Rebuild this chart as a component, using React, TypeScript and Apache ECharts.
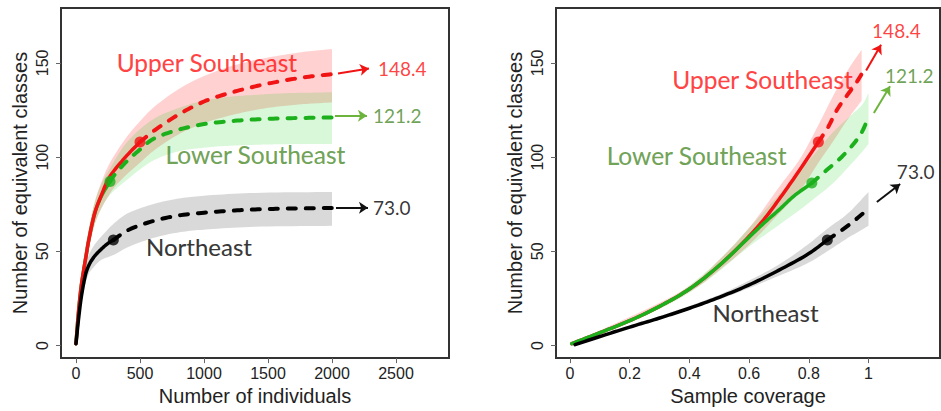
import React, { useEffect, useRef } from 'react';
import * as echarts from 'echarts';

// ---------- axes ----------
const xTicksLeft = [0, 500, 1000, 1500, 2000, 2500];
const xTicksRight = [0, 0.2, 0.4, 0.6, 0.8, 1];
const yTicks = [0, 50, 100, 150];

// ---------- left panel: number of individuals ----------
// Upper Southeast (red)
const usObsX = [0, 20, 40, 60, 80, 100, 150, 200, 250, 300, 400, 500];
const usObsY = [1, 18, 31, 40, 48, 56, 71, 80, 88, 93, 101, 108];
const usExtX = [500, 600, 800, 1000, 1200, 1400, 1600, 1800, 2000];
const usExtY = [108, 113.5, 122.5, 129.5, 134, 137.5, 140.3, 142.5, 144];
const usBandX = [0, 50, 100, 150, 200, 250, 300, 400, 500, 600, 800, 1000, 1200, 1400, 1600, 1800, 2000];
const usBandLo = [1, 32, 51, 65, 73, 79, 84, 91, 97, 103, 112, 118, 122, 125, 127, 128.2, 129];
const usBandHi = [1, 41, 62, 77, 87, 95, 101, 111, 119, 126, 136, 143, 148, 151.5, 154, 156, 157.4];

// Lower Southeast (green)
const lsObsX = [0, 20, 40, 60, 80, 100, 150, 200, 266];
const lsObsY = [1, 18, 31, 40, 48, 56, 71, 79.5, 87];
const lsExtX = [266, 300, 400, 500, 600, 800, 1000, 1200, 1400, 1600, 1800, 2000];
const lsExtY = [87, 90.5, 98, 104, 109.5, 114.5, 117.5, 119, 120, 120.5, 120.8, 121];
const lsBandX = [0, 50, 100, 150, 200, 266, 400, 600, 800, 1000, 1200, 1400, 1600, 2000];
const lsBandLo = [1, 32, 51, 65, 73, 80, 88, 98, 103, 105, 106, 106.5, 106.8, 107];
const lsBandHi = [1, 40, 61, 77, 86, 94, 108, 120, 126, 130, 132, 133, 133.8, 134.4];

// Northeast (black)
const neObsX = [0, 20, 40, 60, 80, 100, 120, 150, 200, 250, 292];
const neObsY = [1, 14, 25, 33, 39, 42.5, 45, 47.8, 51.3, 54.2, 56];
const neExtX = [292, 400, 600, 800, 1000, 1200, 1400, 1600, 1800, 2000];
const neExtY = [56, 61, 66, 69, 70.5, 71.5, 72.2, 72.6, 72.8, 73];
const neBandX = [0, 50, 100, 150, 200, 292, 400, 600, 800, 1000, 1400, 2000];
const neBandLo = [1, 25.5, 38, 42.5, 45.5, 48, 52, 57, 60, 61.5, 63, 63.5];
const neBandHi = [1, 33.5, 48, 54, 58, 64.5, 70, 75, 78, 79.5, 81, 81.5];

// ---------- right panel: sample coverage ----------
const usCovObsX = [0.006, 0.1, 0.2, 0.3, 0.4, 0.5, 0.6, 0.65, 0.7, 0.76, 0.832];
const usCovObsY = [1, 6.8, 13.2, 20.8, 30, 42.5, 58, 67, 77.5, 91, 108];
const usCovExtX = [0.832, 0.865, 0.893, 0.927, 0.955, 0.977];
const usCovExtY = [108, 116, 124.7, 132.5, 138.5, 144];
const usCovBandX = [0.006, 0.4, 0.5, 0.6, 0.7, 0.77, 0.832, 0.88, 0.93, 0.977];
const usCovBandLo = [1, 28.5, 40, 53.5, 70, 82, 97, 108, 120, 130];
const usCovBandHi = [1, 31.5, 45.5, 62.5, 84, 99, 117, 132, 146, 157];

const lsCovObsX = [0.006, 0.1, 0.2, 0.3, 0.4, 0.5, 0.6, 0.65, 0.7, 0.75, 0.81];
const lsCovObsY = [1, 6.8, 13.2, 20.8, 30, 42.5, 57.5, 65, 72, 79.3, 86.2];
const lsCovExtX = [0.81, 0.854, 0.916, 0.971, 1.0];
const lsCovExtY = [86.2, 92.3, 101, 111.5, 121];
const lsCovBandX = [0.006, 0.3, 0.4, 0.5, 0.6, 0.7, 0.77, 0.81, 0.88, 0.94, 0.98, 1.0];
const lsCovBandLo = [1, 19.5, 28, 39.5, 52.5, 64, 72, 77, 86, 96, 103, 107];
const lsCovBandHi = [1, 21.5, 32, 45.5, 62.5, 80, 93, 100, 113, 122, 128, 134];

const neCovObsX = [0.017, 0.12, 0.2, 0.3, 0.4, 0.5, 0.6, 0.7, 0.8, 0.862];
const neCovObsY = [0.5, 5.8, 9.8, 14.6, 19.8, 25.6, 32.2, 40, 48.8, 56];
const neCovExtX = [0.862, 0.93, 1.0];
const neCovExtY = [56, 63.5, 72.5];
const neCovBandX = [0.017, 0.3, 0.5, 0.6, 0.7, 0.8, 0.862, 0.93, 1.0];
const neCovBandLo = [0.5, 14, 24.5, 30.5, 37, 44, 50, 57, 63.5];
const neCovBandHi = [0.5, 15.5, 27, 34.5, 43, 54, 62, 70, 81.5];

// observed reference samples (dots)
const dotsLeft = [[500, 108], [266, 87], [292, 56]];
const dotsRight = [[0.832, 108], [0.81, 86.2], [0.862, 56]];

// ---------- annotations ----------
const groupNames = ['Upper Southeast', 'Lower Southeast', 'Northeast'];
const asymptotes = ['148.4', '121.2', '73.0'];
const nameAnchorsLeft = [[1023, 150.2], [1402, 101.4], [961, 52.6]];
const valueAnchorsLeft = [[2359, 147], [2320, 121.8], [2320, 73.1]];
const arrowsLeft = [[[2047, 144.4], [2289, 147]], [[2023, 121.9], [2273, 121.9]], [[2031, 73.1], [2281, 73.1]]];
const nameAnchorsRight = [[0.645, 141.3], [0.424, 100.9], [0.655, 17.5]];
const valueAnchorsRight = [[1.012, 167], [1.055, 143.4], [1.095, 92.5]];
const arrowsRight = [[[0.992, 146], [1.042, 159.6]], [[1.018, 123.4], [1.072, 137.6]], [[1.028, 76.2], [1.106, 85.7]]];

const LINE_COLORS = ['#f01414', '#1cb01c', '#000000'];
const BAND_COLORS = ['rgba(255,0,0,0.18)', 'rgba(0,200,0,0.15)', 'rgba(0,0,0,0.15)'];
const TEXT_COLORS = ['#ff1010', '#4a8a2a', '#000000'];
const ARROW_COLORS = ['#f01414', '#6cb43c', '#111111'];

const AXIS_FONT = '"Liberation Sans", Arial, sans-serif';
const NOTE_FONT = 'Lato, "Open Sans", sans-serif';

const zip = (xs: number[], ys: number[]) => xs.map((x, i) => [x, ys[i]]);

// centripetal Catmull-Rom through pixel points (smoothing only, passes through every point)
function smoothPts(pts: number[][], steps = 10): number[][] {
  const n = pts.length;
  if (n < 3) return pts.slice();
  const out: number[][] = [];
  const dist = (a: number[], b: number[]) => Math.max(Math.sqrt(Math.hypot(b[0] - a[0], b[1] - a[1])), 1e-4);
  for (let i = 0; i < n - 1; i++) {
    const p1 = pts[i];
    const p2 = pts[i + 1];
    const p0 = i > 0 ? pts[i - 1] : [2 * p1[0] - p2[0], 2 * p1[1] - p2[1]];
    const p3 = i + 2 < n ? pts[i + 2] : [2 * p2[0] - p1[0], 2 * p2[1] - p1[1]];
    const t0 = 0;
    const t1 = t0 + dist(p0, p1);
    const t2 = t1 + dist(p1, p2);
    const t3 = t2 + dist(p2, p3);
    const lerp = (a: number[], b: number[], ta: number, tb: number, t: number) => [
      ((tb - t) / (tb - ta)) * a[0] + ((t - ta) / (tb - ta)) * b[0],
      ((tb - t) / (tb - ta)) * a[1] + ((t - ta) / (tb - ta)) * b[1],
    ];
    for (let s = 0; s < steps; s++) {
      const t = t1 + ((t2 - t1) * s) / steps;
      const a1 = lerp(p0, p1, t0, t1, t);
      const a2 = lerp(p1, p2, t1, t2, t);
      const a3 = lerp(p2, p3, t2, t3, t);
      const b1 = lerp(a1, a2, t0, t2, t);
      const b2 = lerp(a2, a3, t1, t3, t);
      out.push(lerp(b1, b2, t1, t2, t));
    }
  }
  out.push(pts[n - 1]);
  return out;
}

function bandSeries(idx: number, xs: number[], lo: number[], hi: number[], color: string) {
  return {
    type: 'custom', xAxisIndex: idx, yAxisIndex: idx, silent: true, z: 1, clip: false,
    encode: { x: 0, y: [1, 2] },
    data: xs.map((x, i) => [x, lo[i], hi[i]]),
    renderItem: (params: any, api: any) => {
      if (params.dataIndex !== 0) return null;
      const up = smoothPts(xs.map((x, i) => api.coord([x, hi[i]])));
      const dn = smoothPts(xs.map((x, i) => api.coord([x, lo[i]])));
      return {
        type: 'polygon',
        shape: { points: up.concat(dn.reverse()) },
        style: { fill: color, stroke: 'none' },
      };
    },
  };
}

function curveSeries(idx: number, xs: number[], ys: number[], color: string, dashed: boolean, z: number) {
  return {
    type: 'custom', xAxisIndex: idx, yAxisIndex: idx, silent: true, z, clip: false,
    encode: { x: 0, y: 1 },
    data: zip(xs, ys),
    renderItem: (params: any, api: any) => {
      if (params.dataIndex !== 0) return null;
      const pts = smoothPts(xs.map((x, i) => api.coord([x, ys[i]])));
      return {
        type: 'polyline',
        shape: { points: pts },
        style: dashed
          ? { stroke: color, lineWidth: 4, lineDash: [8, 10], lineCap: 'round', fill: 'none' }
          : { stroke: color, lineWidth: 3.5, lineCap: 'round', lineJoin: 'round', fill: 'none' },
      };
    },
  };
}

function dotSeries(idx: number, pts: number[][]) {
  return {
    type: 'scatter', xAxisIndex: idx, yAxisIndex: idx, symbolSize: 11, silent: true, z: 5,
    data: pts.map((p, i) => ({ value: p, itemStyle: { color: LINE_COLORS[i] } })),
  };
}

function arrowSeries(idx: number, arrows: number[][][]) {
  return {
    type: 'lines', coordinateSystem: 'cartesian2d', xAxisIndex: idx, yAxisIndex: idx, silent: true, z: 6,
    symbol: ['none', 'arrow'], symbolSize: 9,
    data: arrows.map((c, i) => ({ coords: c, lineStyle: { color: ARROW_COLORS[i], width: 2, opacity: 1 } })),
  };
}

function labelSeries(idx: number, names: number[][], values: number[][]) {
  const data: any[] = [];
  names.forEach((p, i) =>
    data.push({
      value: p, name: groupNames[i],
      label: {
        color: TEXT_COLORS[i], fontSize: i === 2 ? 24 : 24.5, align: 'center',
        textBorderColor: TEXT_COLORS[i], textBorderWidth: 0.15,
      },
    })
  );
  values.forEach((p, i) =>
    data.push({
      value: p, name: asymptotes[i],
      label: { color: TEXT_COLORS[i], fontSize: 19, align: 'left' },
    })
  );
  return {
    type: 'scatter', xAxisIndex: idx, yAxisIndex: idx, symbolSize: 0, silent: true, z: 10, clip: false,
    label: { show: true, position: [0, 0], verticalAlign: 'middle', formatter: '{b}', fontFamily: NOTE_FONT },
    data,
  };
}

const plain = (v: number) => String(v);

function xAxis(idx: number, min: number, max: number, ticks: number[], name: string) {
  return {
    gridIndex: idx, type: 'value', min, max, name, nameLocation: 'middle', nameGap: 24,
    nameTextStyle: { fontFamily: AXIS_FONT, fontSize: 20, color: '#222' },
    axisLine: { show: false, onZero: false },
    splitLine: { show: false },
    axisTick: { show: true, length: 5, customValues: ticks, lineStyle: { color: '#666', width: 1 } },
    axisLabel: { customValues: ticks, formatter: plain, margin: 7, fontFamily: AXIS_FONT, fontSize: 16, color: '#222' },
  };
}

function yAxis(idx: number) {
  return {
    gridIndex: idx, type: 'value', min: -6.66, max: 179.1, name: 'Number of equivalent classes',
    nameLocation: 'middle', nameGap: 31,
    nameTextStyle: { fontFamily: AXIS_FONT, fontSize: 20, color: '#222' },
    axisLine: { show: false, onZero: false },
    splitLine: { show: false },
    axisTick: { show: true, length: 5, customValues: yTicks, lineStyle: { color: '#666', width: 1 } },
    axisLabel: { customValues: yTicks, formatter: plain, rotate: 90, margin: 11, fontFamily: AXIS_FONT, fontSize: 16, color: '#222' },
  };
}

export default function App() {
  const ref = useRef<HTMLDivElement>(null);
  useEffect(() => {
    if (!ref.current) return;
    const chart = echarts.init(ref.current, undefined, { renderer: 'svg' });
    const series: any[] = [
      // left panel
      bandSeries(0, usBandX, usBandLo, usBandHi, BAND_COLORS[0]),
      bandSeries(0, lsBandX, lsBandLo, lsBandHi, BAND_COLORS[1]),
      bandSeries(0, neBandX, neBandLo, neBandHi, BAND_COLORS[2]),
      curveSeries(0, lsObsX, lsObsY, LINE_COLORS[1], false, 3),
      curveSeries(0, usObsX, usObsY, LINE_COLORS[0], false, 3),
      curveSeries(0, neObsX, neObsY, LINE_COLORS[2], false, 3),
      curveSeries(0, usExtX, usExtY, LINE_COLORS[0], true, 3),
      curveSeries(0, lsExtX, lsExtY, LINE_COLORS[1], true, 3),
      curveSeries(0, neExtX, neExtY, LINE_COLORS[2], true, 3),
      dotSeries(0, dotsLeft),
      arrowSeries(0, arrowsLeft),
      labelSeries(0, nameAnchorsLeft, valueAnchorsLeft),
      // right panel
      bandSeries(1, usCovBandX, usCovBandLo, usCovBandHi, BAND_COLORS[0]),
      bandSeries(1, lsCovBandX, lsCovBandLo, lsCovBandHi, BAND_COLORS[1]),
      bandSeries(1, neCovBandX, neCovBandLo, neCovBandHi, BAND_COLORS[2]),
      curveSeries(1, usCovObsX, usCovObsY, LINE_COLORS[0], false, 3),
      curveSeries(1, lsCovObsX, lsCovObsY, LINE_COLORS[1], false, 3),
      curveSeries(1, neCovObsX, neCovObsY, LINE_COLORS[2], false, 3),
      curveSeries(1, usCovExtX, usCovExtY, LINE_COLORS[0], true, 3),
      curveSeries(1, lsCovExtX, lsCovExtY, LINE_COLORS[1], true, 3),
      curveSeries(1, neCovExtX, neCovExtY, LINE_COLORS[2], true, 3),
      dotSeries(1, dotsRight),
      arrowSeries(1, arrowsRight),
      labelSeries(1, nameAnchorsRight, valueAnchorsRight),
    ];
    chart.setOption({
      animation: false,
      backgroundColor: '#ffffff',
      grid: [
        { left: 61, top: 8, width: 388, height: 354, show: true, borderColor: '#333', borderWidth: 2, backgroundColor: 'transparent' },
        { left: 556, top: 8, width: 384, height: 354, show: true, borderColor: '#333', borderWidth: 2, backgroundColor: 'transparent' },
      ],
      xAxis: [
        xAxis(0, -117, 2914, xTicksLeft, 'Number of individuals'),
        xAxis(1, -0.047, 1.2395, xTicksRight, 'Sample coverage'),
      ],
      yAxis: [yAxis(0), yAxis(1)],
      series,
    });
    return () => chart.dispose();
  }, []);
  return (
    <div
      ref={ref}
      style={{ position: 'fixed', left: 0, top: 0, width: 941, height: 411, background: '#fff' }}
    />
  );
}
